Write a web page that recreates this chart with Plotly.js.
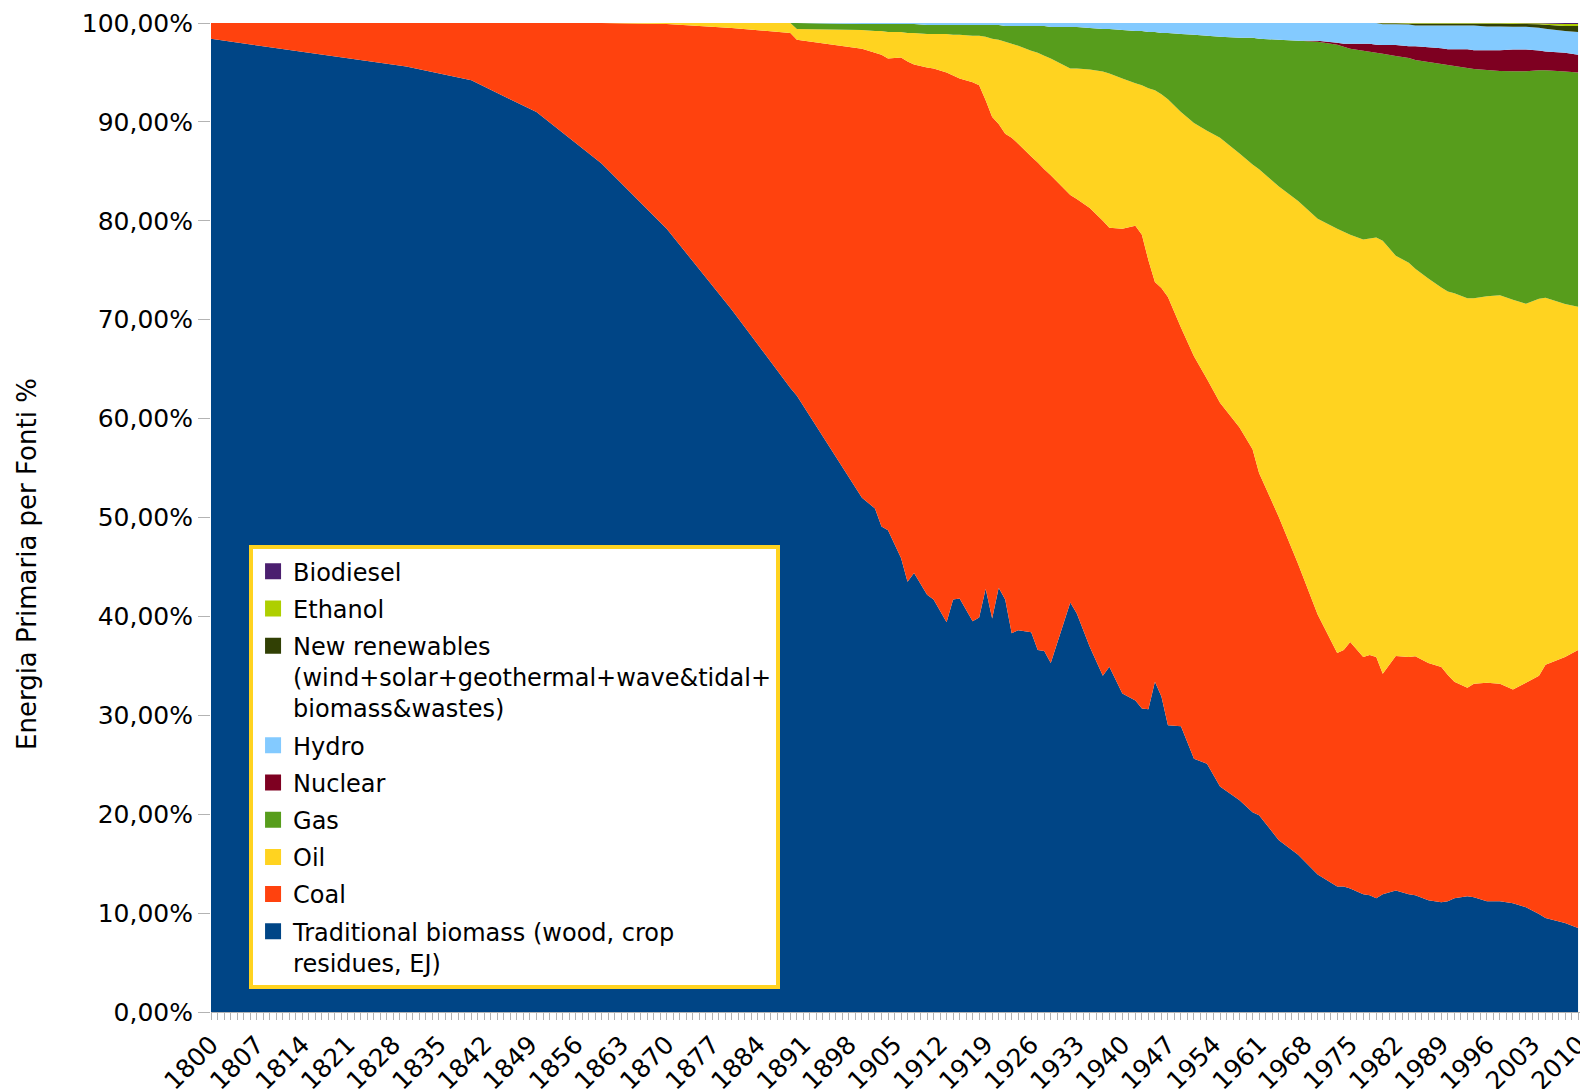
<!DOCTYPE html>
<html>
<head>
<meta charset="utf-8">
<script src="https://cdn.plot.ly/plotly-3.0.1.min.js"></script>
<style>
  html, body { margin: 0; padding: 0; background: #ffffff; }
  #chart { width: 1580px; height: 1089px; }
</style>
</head>
<body>
<div id="chart"></div>
<script>
// ---- Data (percent share of world primary energy) ----
const years = [1800,1830,1840,1850,1860,1870,1880,1889,1890,
  1900,1902,1903,1904,1906,1907,1908,
  1910,1911,1913,1914,1915,1917,1918,1919,
  1920,1921,1922,1923,1924,1926,1927,1928,1929,
  1932,1933,1935,1937,1938,
  1940,1942,1943,1944,1945,1946,1947,1949,
  1951,1953,1955,1958,
  1960,1961,1964,1967,
  1970,1973,1974,1975,1977,1978,1979,
  1980,1982,1984,1985,1987,1989,
  1990,1991,1993,1994,1996,1998,
  2000,2002,2004,2005,2008,2010];

const traditionalBiomass = [98.4,95.6,94.2,91.0,85.8,79.2,71.0,63.1,62.3,
  52.0,50.9,49.1,48.7,45.9,43.5,44.4,
  42.2,41.7,39.4,41.7,41.8,39.5,39.9,42.8,
  39.8,42.9,41.7,38.3,38.6,38.4,36.6,36.5,35.3,
  41.4,40.3,36.9,34.0,34.9,
  32.2,31.5,30.7,30.6,33.4,31.9,29.0,28.9,
  25.6,25.1,22.8,21.4,
  20.2,19.9,17.4,15.9,
  13.9,12.7,12.7,12.5,11.9,11.8,11.5,
  11.9,12.3,11.9,11.8,11.3,11.1,
  11.2,11.5,11.7,11.6,11.2,11.2,
  11.0,10.6,9.9,9.5,9.0,8.5];

const coal = [1.6,4.4,5.8,9.0,14.2,20.7,28.5,35.9,36.0,
  45.4,46.1,47.7,47.7,50.6,52.6,51.4,
  53.3,53.7,55.6,53.0,52.6,54.5,53.8,49.4,
  50.7,46.9,47.1,50.1,49.2,48.1,49.3,48.7,49.3,
  41.2,41.9,44.4,46.0,44.4,
  47.0,48.0,47.9,45.4,40.4,41.3,43.3,40.3,
  40.7,38.9,38.8,37.7,
  36.7,34.6,32.7,29.4,
  26.3,23.6,23.9,24.9,24.0,24.3,24.4,
  22.3,23.7,24.0,24.2,24.0,23.8,
  22.9,21.9,21.1,21.6,22.1,22.0,
  21.6,22.7,24.1,25.6,26.9,28.1];

const oil = [0,0,0,0,0,0.1,0.5,1.0,1.1,
  1.9,2.2,2.4,2.7,2.6,2.9,3.2,
  3.4,3.5,3.9,4.1,4.4,4.7,5.0,6.4,
  7.9,8.5,9.3,9.5,9.9,10.7,11.1,11.5,11.8,
  12.8,13.2,14.0,15.1,15.6,
  15.2,14.4,15.1,17.4,19.4,19.6,20.0,21.8,
  23.6,25.1,26.8,27.7,
  28.8,30.7,33.4,36.7,
  40.0,42.9,42.3,41.2,42.2,42.1,42.4,
  43.8,40.5,39.9,39.2,38.9,38.4,
  38.8,39.3,39.4,39.0,39.1,39.3,
  39.4,38.3,38.1,37.1,35.7,34.7];

const gas = [0,0,0,0,0,0,0,0,0.6,
  0.6,0.7,0.7,0.8,0.8,0.9,0.9,
  0.9,0.9,0.9,1.0,1.0,1.1,1.1,1.2,
  1.4,1.5,1.6,1.8,2.0,2.5,2.7,3.0,3.2,
  4.2,4.2,4.2,4.3,4.5,
  4.9,5.3,5.5,5.7,5.9,6.2,6.7,7.9,
  8.9,9.6,10.2,11.7,
  12.8,13.2,14.8,16.2,
  17.9,18.6,18.7,18.8,19.1,18.9,18.7,
  18.9,20.2,20.7,21.1,21.9,22.6,
  22.9,23.0,23.3,23.2,22.9,22.7,
  23.1,23.5,23.1,23.0,23.5,23.7];

const nuclear = [0,0,0,0,0,0,0,0,0,
  0,0,0,0,0,0,0,
  0,0,0,0,0,0,0,0,
  0,0,0,0,0,0,0,0,0,
  0,0,0,0,0,
  0,0,0,0,0,0,0,0,
  0,0,0,0,
  0,0,0,0,
  0.1,0.2,0.3,0.5,0.7,0.8,0.8,
  0.9,1.1,1.2,1.4,1.5,1.6,
  1.6,1.7,1.9,1.9,2.0,2.1,
  2.2,2.2,2.0,1.9,1.9,1.8];

const hydro = [0,0,0,0,0,0,0,0,0,
  0.1,0.1,0.1,0.1,0.1,0.1,0.1,
  0.2,0.2,0.2,0.2,0.2,0.2,0.2,0.2,
  0.2,0.2,0.3,0.3,0.3,0.3,0.3,0.3,0.4,
  0.4,0.4,0.5,0.6,0.6,
  0.7,0.8,0.8,0.9,0.9,1.0,1.0,1.1,
  1.2,1.3,1.4,1.5,
  1.5,1.6,1.7,1.8,
  1.8,2.0,2.1,2.1,2.1,2.1,2.2,
  2.1,2.1,2.2,2.1,2.2,2.3,
  2.4,2.4,2.4,2.5,2.4,2.4,
  2.3,2.3,2.3,2.3,2.2,2.3];

const newRenewables = [0,0,0,0,0,0,0,0,0,
  0,0,0,0,0,0,0,
  0,0,0,0,0,0,0,0,
  0,0,0,0,0,0,0,0,0,
  0,0,0,0,0,
  0,0,0,0,0,0,0,0,
  0,0,0,0,
  0,0,0,0,
  0,0,0,0,0,0,0,
  0.1,0.1,0.1,0.2,0.2,0.2,
  0.2,0.2,0.2,0.2,0.3,0.3,
  0.3,0.3,0.35,0.4,0.5,0.6];

const ethanol = [0,0,0,0,0,0,0,0,0,
  0,0,0,0,0,0,0,
  0,0,0,0,0,0,0,0,
  0,0,0,0,0,0,0,0,0,
  0,0,0,0,0,
  0,0,0,0,0,0,0,0,
  0,0,0,0,
  0,0,0,0,
  0,0,0,0,0,0,0,
  0.02,0.03,0.04,0.05,0.05,0.05,
  0.05,0.05,0.05,0.05,0.05,0.05,
  0.06,0.07,0.1,0.12,0.2,0.2];

const biodiesel = [0,0,0,0,0,0,0,0,0,
  0,0,0,0,0,0,0,
  0,0,0,0,0,0,0,0,
  0,0,0,0,0,0,0,0,0,
  0,0,0,0,0,
  0,0,0,0,0,0,0,0,
  0,0,0,0,
  0,0,0,0,
  0,0,0,0,0,0,0,
  0,0,0,0,0,0,
  0,0,0,0,0,0,
  0.01,0.02,0.03,0.05,0.1,0.1];

// Series names (legend labels), bottom-to-top stacking order
const seriesNames = [
  'Traditional biomass (wood, crop<br>residues, EJ)',
  'Coal',
  'Oil',
  'Gas',
  'Nuclear',
  'Hydro',
  'New renewables<br>(wind+solar+geothermal+wave&amp;tidal+<br>biomass&amp;wastes)',
  'Ethanol',
  'Biodiesel'
];
const seriesValues = [traditionalBiomass, coal, oil, gas, nuclear, hydro, newRenewables, ethanol, biodiesel];
const seriesColors = ['#004586','#ff420e','#ffd320','#579d1c','#7e0021','#83caff','#314004','#aecf00','#4b1f6f'];

const xTickStart = 1800, xTickStep = 7;
const yAxisTitle = 'Energia Primaria per Fonti %';

// ---- Traces ----
const FONT = 'DejaVu Sans, Liberation Sans, Arial, sans-serif';
const traces = [];
seriesValues.forEach((vals, i) => {
  traces.push({
    type: 'scatter',
    x: years,
    y: vals,
    name: seriesNames[i],
    stackgroup: 'energy',
    groupnorm: i === 0 ? 'percent' : undefined,
    mode: 'none',
    line: { width: 0 },
    fillcolor: seriesColors[i],
    showlegend: false,
    hoverinfo: 'skip'
  });
});
// Legend entries (square swatches), top-to-bottom as in the reference
for (let i = seriesValues.length - 1; i >= 0; i--) {
  traces.push({
    type: 'scatter',
    x: [null],
    y: [null],
    name: seriesNames[i],
    legendgroup: 'g' + i,
    mode: 'markers',
    marker: { symbol: 'square', size: 16, color: seriesColors[i], line: { width: 0 } },
    showlegend: true,
    hoverinfo: 'skip'
  });
}

const layout = {
  width: 1580,
  height: 1089,
  margin: { l: 211, r: 0, t: 23, b: 77, pad: 0 },
  paper_bgcolor: '#ffffff',
  plot_bgcolor: '#ffffff',
  separators: ',.',
  font: { family: FONT, size: 24, color: '#000000' },
  showlegend: true,
  hovermode: false,
  legend: {
    x: 0.0278,
    y: 0.472,
    xanchor: 'left',
    yanchor: 'top',
    bgcolor: '#ffffff',
    bordercolor: '#ffd320',
    borderwidth: 4,
    traceorder: 'grouped',
    tracegroupgap: 3,
    valign: 'top',
    font: { family: FONT, size: 24, color: '#000000' }
  },
  xaxis: {
    type: 'linear',
    range: [1800, 2010.3],
    tickmode: 'linear',
    tick0: xTickStart,
    dtick: xTickStep,
    tickformat: 'd',
    tickangle: -45,
    ticklabeloverflow: 'allow',
    ticks: 'outside',
    ticklen: 7,
    tickcolor: '#b3b3b3',
    tickwidth: 1,
    minor: { tickmode: 'linear', tick0: 1800, dtick: 1, ticks: 'outside', ticklen: 7, tickcolor: '#b3b3b3', tickwidth: 1, showgrid: false },
    showline: true,
    linecolor: '#b3b3b3',
    linewidth: 1,
    showgrid: false,
    zeroline: false,
    fixedrange: true,
    tickfont: { family: FONT, size: 25, color: '#000000' }
  },
  yaxis: {
    range: [0, 100],
    tickmode: 'linear',
    tick0: 0,
    dtick: 10,
    tickformat: '.2f',
    ticksuffix: '%',
    ticks: 'outside',
    ticklen: 12,
    tickcolor: '#b3b3b3',
    tickwidth: 1,
    showline: false,
    showgrid: false,
    zeroline: false,
    fixedrange: true,
    tickfont: { family: FONT, size: 25, color: '#000000' }
  },
  annotations: [{
    text: yAxisTitle,
    xref: 'paper', yref: 'paper',
    x: -0.1344, y: 0.453,
    xanchor: 'center', yanchor: 'middle',
    textangle: -90,
    showarrow: false,
    font: { family: FONT, size: 26, color: '#000000' }
  }]
};

Plotly.newPlot('chart', traces, layout, { staticPlot: true, displayModeBar: false });
</script>
</body>
</html>
